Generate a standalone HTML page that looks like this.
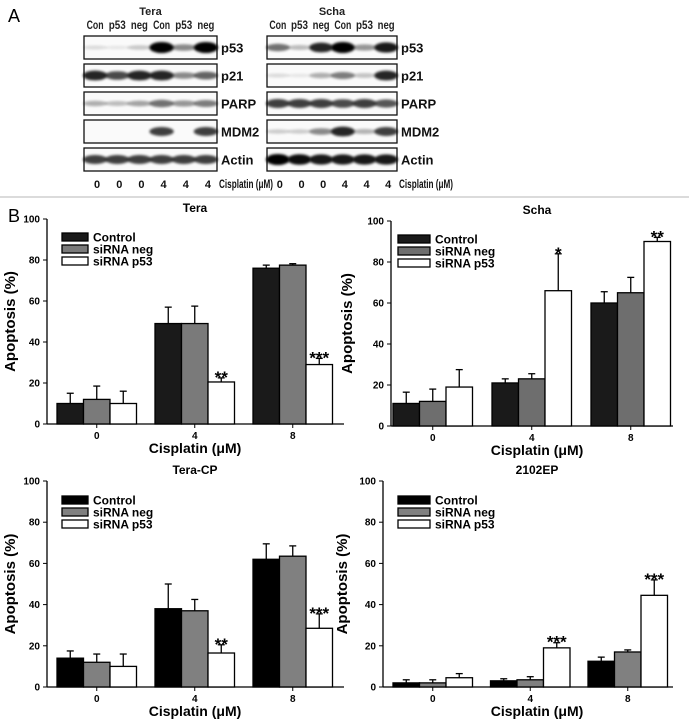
<!DOCTYPE html>
<html><head><meta charset="utf-8">
<style>
body{margin:0;background:#fff;}
svg{display:block;font-family:"Liberation Sans",Arial,sans-serif;}
</style></head>
<body>
<svg id="fig" width="689" height="728" viewBox="0 0 689 728">
<defs>
<filter id="blur" x="-20%" y="-50%" width="140%" height="200%"><feGaussianBlur stdDeviation="1.4"/></filter>
</defs>
<text x="8" y="22" font-size="18">A</text>
<text x="8" y="222" font-size="18">B</text>
<line x1="0" y1="197" x2="689" y2="197" stroke="#cfcfcf" stroke-width="1.5"/>
<g id="blots"></g>
<g id="charts"></g>
</svg>
<script>
const NS="http://www.w3.org/2000/svg";
function mk(parent,tag,attrs,text){const e=document.createElementNS(NS,tag);for(const k in attrs)e.setAttribute(k,attrs[k]);if(text!==undefined)e.textContent=text;parent.appendChild(e);return e;}

// ---------- Blot data ----------
const blotRows=["p53","p21","PARP","MDM2","Actin"];
const laneLabels=["Con","p53","neg","Con","p53","neg"];
const doseLabels=["0","0","0","4","4","4"];
const teraBands=[[0.12,0.08,0.2,1,0.45,1],[0.85,0.7,0.85,0.85,0.45,0.6],[0.3,0.25,0.35,0.55,0.4,0.5],[0,0,0,0.75,0,0.75],[0.75,0.75,0.75,0.75,0.75,0.75]];
const schaBands=[[0.55,0.25,0.85,1,0.4,0.9],[0.12,0.08,0.3,0.5,0.22,0.85],[0.75,0.75,0.75,0.7,0.75,0.65],[0.18,0.18,0.45,0.85,0.28,0.75],[1,0.95,0.9,0.9,0.9,0.9]];
const rowTops=[36,64,92,120,148];
const rowH=23;
function drawBlot(title,x0,x1,bands){
  const g=document.getElementById('blots');
  const grp=mk(g,'g',{});
  
  
  const lw=(x1-x0)/6;
  const t=mk(grp,'text',{x:(x0+x1)/2,y:15,'font-size':11,'font-weight':'bold','text-anchor':'middle',fill:'#222'},title);
  
  laneLabels.forEach((l,i)=>{const e=mk(grp,'text',{x:x0+lw*(i+0.5),y:29,'font-size':12,'font-weight':'bold','text-anchor':'middle',fill:'#222',textLength:17,lengthAdjust:'spacingAndGlyphs'},l);
    });
  doseLabels.forEach((l,i)=>{const e=mk(grp,'text',{x:x0+lw*(i+0.5)+2,y:188,'font-size':11,'font-weight':'bold','text-anchor':'middle',fill:'#111'},l);
    });
  const c=mk(grp,'text',{x:x1+2,y:188,'font-size':12,'font-weight':'bold',fill:'#111',textLength:54,lengthAdjust:'spacingAndGlyphs'},'Cisplatin (μM)');
  
  blotRows.forEach((r,ri)=>{
    const y=rowTops[ri];
    const box=mk(grp,'rect',{x:x0,y:y,width:x1-x0,height:rowH,fill:'#fafafa',stroke:'#111','stroke-width':1.3});
    
    bands[ri].forEach((v,i)=>{if(v<=0)return;
      const b=mk(grp,'ellipse',{cx:x0+lw*(i+0.5),cy:y+rowH/2,rx:lw*0.55,ry:1.5+v*4,fill:'#000',opacity:v,filter:'url(#blur)'});
      });
    const lab=mk(grp,'text',{x:x1+4,y:y+rowH/2+5,'font-size':13,'font-weight':'bold',fill:'#111'},r);
    
  });
}
drawBlot('Tera',84,217,teraBands);
drawBlot('Scha',267,397,schaBands);

// ---------- Chart data ----------
const categories=["0","4","8"];
const seriesNames=["Control","siRNA neg","siRNA p53"];
const yTicks=[0,20,40,60,80,100];
const teraCtrl=[10,49,76], teraCtrlErr=[5,8,1.5];
const teraNeg=[12,49,77.5], teraNegErr=[6.5,8.5,0.7];
const teraP53=[10,20.5,29], teraP53Err=[6,2,3];
const teraStars=["","**","***"];
const schaCtrl=[11,21,60], schaCtrlErr=[5.5,2,5.5];
const schaNeg=[12,23,65], schaNegErr=[6,2.5,7.5];
const schaP53=[19,66,90], schaP53Err=[8.5,18,2];
const schaStars=["","*","**"];
const cpCtrl=[14,38,62], cpCtrlErr=[3.5,12,7.5];
const cpNeg=[12,37,63.5], cpNegErr=[4,5.5,5];
const cpP53=[10,16.5,28.5], cpP53Err=[6,4,7];
const cpStars=["","**","***"];
const epCtrl=[2,3,12.5], epCtrlErr=[1.5,1,2];
const epNeg=[2,3.5,17], epNegErr=[1.5,1.5,1];
const epP53=[4.5,19,44.5], epP53Err=[2,2.5,7.5];
const epStars=["","***","***"];

function drawChart(o){
  const root=document.getElementById('charts');
  const g=mk(root,'g',{});
  
  
  const yS=v=>o.y0-(v/100)*(o.y0-o.y100);
  const bw=26.5, sp=o.spacing;
  const xS=(gi,si)=>o.first+gi*sp+si*bw;
  const fills=o.fills;
  const t=mk(g,'text',{x:o.titleX,y:o.y100-7,'font-size':12,'font-weight':'bold','text-anchor':'middle'},o.title);
  
  const ya=mk(g,'line',{x1:o.ox,y1:o.y100,x2:o.ox,y2:o.y0,stroke:'#000','stroke-width':1.3});
  
  const xa=mk(g,'line',{x1:o.ox,y1:o.y0,x2:o.xEnd,y2:o.y0,stroke:'#000','stroke-width':1.3});
  
  yTicks.forEach(v=>{
    const tk=mk(g,'line',{x1:o.ox-4,y1:yS(v),x2:o.ox,y2:yS(v),stroke:'#000','stroke-width':1});
    
    const tl=mk(g,'text',{x:o.ox-7,y:yS(v)+3.5,'font-size':10,'font-weight':'bold','text-anchor':'end'},String(v));
    
  });
  const yl=mk(g,'text',{x:0,y:0,'font-size':15,'font-weight':'bold','text-anchor':'middle',transform:`translate(${o.ylx},${(o.y0+o.y100)/2}) rotate(-90)`},'Apoptosis (%)');
  
  const xl=mk(g,'text',{x:o.titleX,y:o.y0+29,'font-size':14,'font-weight':'bold','text-anchor':'middle'},'Cisplatin (μM)');
  
  categories.forEach((c,gi)=>{
    const cx=xS(gi,1.5);
    const tk=mk(g,'line',{x1:cx,y1:o.y0,x2:cx,y2:o.y0+4,stroke:'#000','stroke-width':1});
    
    const tl=mk(g,'text',{x:cx,y:o.y0+15,'font-size':10,'font-weight':'bold','text-anchor':'middle'},c);
    
  });
  o.series.forEach((s,si)=>{
    s.vals.forEach((v,gi)=>{
      const x=xS(gi,si), top=yS(v), etop=yS(v+s.err[gi]);
      const el=mk(g,'line',{x1:x+bw/2,y1:top,x2:x+bw/2,y2:etop,stroke:'#000','stroke-width':1.3});
      
      const cap=mk(g,'line',{x1:x+bw/2-3.5,y1:etop,x2:x+bw/2+3.5,y2:etop,stroke:'#000','stroke-width':1.3});
      
      const r=mk(g,'rect',{x:x,y:top,width:bw,height:o.y0-top,fill:fills[si],stroke:'#000','stroke-width':1.3});
      
      
    });
  });
  const p=o.series[2];
  o.stars.forEach((st,gi)=>{if(!st)return;
    const x=xS(gi,2)+bw/2, y=yS(p.vals[gi]+p.err[gi])+1;
    const s=mk(g,'text',{x:x,y:y+4,'font-size':17,'font-weight':'bold','text-anchor':'middle'},st);
    
  });
  seriesNames.forEach((n,si)=>{
    const y=o.legY+si*12;
    const sw=mk(g,'rect',{x:o.legX,y:y-4,width:o.legW,height:8,fill:fills[si],stroke:'#000','stroke-width':1.3});
    
    const lt=mk(g,'text',{x:o.legX+o.legW+5,y:y+4.5,'font-size':12,'font-weight':'bold'},n);
    
  });
}
drawChart({name:'tera',title:'Tera',titleX:195,ox:47,y0:424,y100:219,first:57,spacing:98,xEnd:344,ylx:15,legX:62,legW:26,legY:237,fills:['#1a1a1a','#7a7a7a','#fff'],
  series:[{vals:teraCtrl,err:teraCtrlErr},{vals:teraNeg,err:teraNegErr},{vals:teraP53,err:teraP53Err}],stars:teraStars});
drawChart({name:'scha',title:'Scha',titleX:537,ox:391,y0:426,y100:221,first:393,spacing:99,xEnd:673,ylx:352,legX:398,legW:32,legY:239,fills:['#1a1a1a','#6e6e6e','#fff'],
  series:[{vals:schaCtrl,err:schaCtrlErr},{vals:schaNeg,err:schaNegErr},{vals:schaP53,err:schaP53Err}],stars:schaStars});
drawChart({name:'tera-cp',title:'Tera-CP',titleX:195,ox:47,y0:687,y100:481,first:57,spacing:98,xEnd:344,ylx:15,legX:62,legW:26,legY:500,fills:['#000','#808080','#fff'],
  series:[{vals:cpCtrl,err:cpCtrlErr},{vals:cpNeg,err:cpNegErr},{vals:cpP53,err:cpP53Err}],stars:cpStars});
drawChart({name:'2102ep',title:'2102EP',titleX:537,ox:383,y0:687,y100:481,first:393,spacing:97.5,xEnd:673,ylx:347,legX:398,legW:32,legY:500,fills:['#000','#808080','#fff'],
  series:[{vals:epCtrl,err:epCtrlErr},{vals:epNeg,err:epNegErr},{vals:epP53,err:epP53Err}],stars:epStars});
</script>
</body></html>
